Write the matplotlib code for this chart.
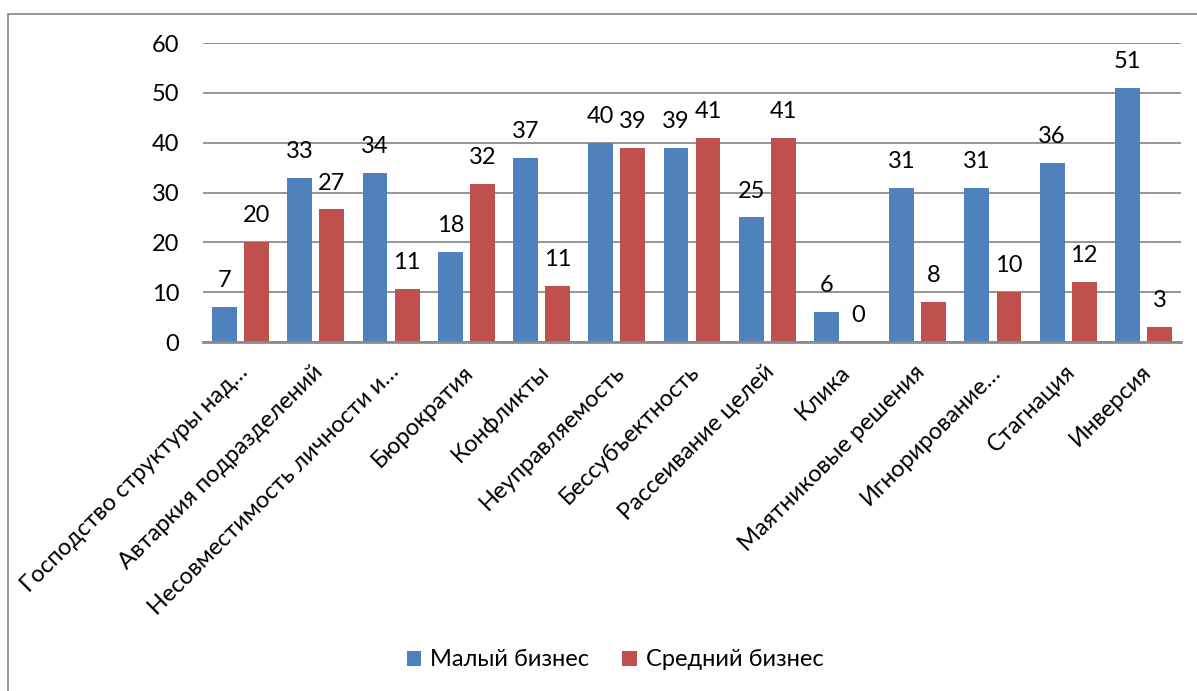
import matplotlib.pyplot as plt
import matplotlib.patches as patches
import matplotlib.transforms as mtransforms
import numpy as np

plt.rcParams['font.family'] = ['Lato', 'DejaVu Sans']

categories = ['Господство структуры над…', 'Автаркия подразделений',
              'Несовместимость личности и…', 'Бюрократия', 'Конфликты',
              'Неуправляемость', 'Бессубъектность', 'Рассеивание целей',
              'Клика', 'Маятниковые решения', 'Игнорирование…',
              'Стагнация', 'Инверсия']
small_biz = [7, 33, 34, 18, 37, 40, 39, 25, 6, 31, 31, 36, 51]
medium_biz = [20, 26.6, 10.6, 31.7, 11.2, 39, 41, 41, 0, 8, 10, 12, 3]
series_names = ['Малый бизнес', 'Средний бизнес']
colors = ['#4F81BD', '#C0504D']

fs = 17

fig = plt.figure(figsize=(11.97, 6.91), dpi=100)
ax = fig.add_axes([0.1696, 0.505, 0.817, 0.4327])

x = np.arange(len(categories))
w = 0.33
off = 0.213
bars1 = ax.bar(x - off, small_biz, w, color=colors[0], label=series_names[0], zorder=3)
bars2 = ax.bar(x + off, medium_biz, w, color=colors[1], label=series_names[1], zorder=3)

for bars, vals in [(bars1, small_biz), (bars2, medium_biz)]:
    for b, v in zip(bars, vals):
        ax.annotate('%.0f' % v, (b.get_x() + b.get_width() / 2, v),
                    xytext=(0, 19), textcoords='offset points',
                    ha='center', va='center', fontsize=fs)

ax.set_xlim(-0.5, len(categories) - 0.5)
ax.set_ylim(0, 60)
ax.set_yticks(range(0, 61, 10))
ax.yaxis.grid(True, color='#8c8c8c', lw=1.3, zorder=0)
ax.tick_params(axis='y', length=0, pad=17, labelsize=fs)
ax.tick_params(axis='x', length=0, pad=4)
for s in ['top', 'right', 'left']:
    ax.spines[s].set_visible(False)
ax.spines['bottom'].set_color('#8c8c8c')
ax.spines['bottom'].set_linewidth(2)
ax.spines['bottom'].set_zorder(4)

ax.set_xticks(x)
ax.set_xticklabels(categories, rotation=45, ha='right', va='center',
                   rotation_mode='anchor', fontsize=fs)
shift = mtransforms.ScaledTranslation(4 / 100, -21 / 100, fig.dpi_scale_trans)
for lbl in ax.get_xticklabels():
    lbl.set_transform(lbl.get_transform() + shift)

fig.legend(loc='center', bbox_to_anchor=(0.514, 0.045), ncol=2, frameon=False,
           fontsize=fs, handlelength=0.6, handleheight=0.6, handletextpad=0.4,
           columnspacing=1.4)

border = patches.Rectangle((8 / 1197, -0.1), 1.2, (691 - 14) / 691 + 0.1,
                           transform=fig.transFigure, fill=False,
                           edgecolor='#8c8c8c', lw=1.3, clip_on=False)
fig.patches.append(border)

fig.savefig('out.png', dpi=100)
